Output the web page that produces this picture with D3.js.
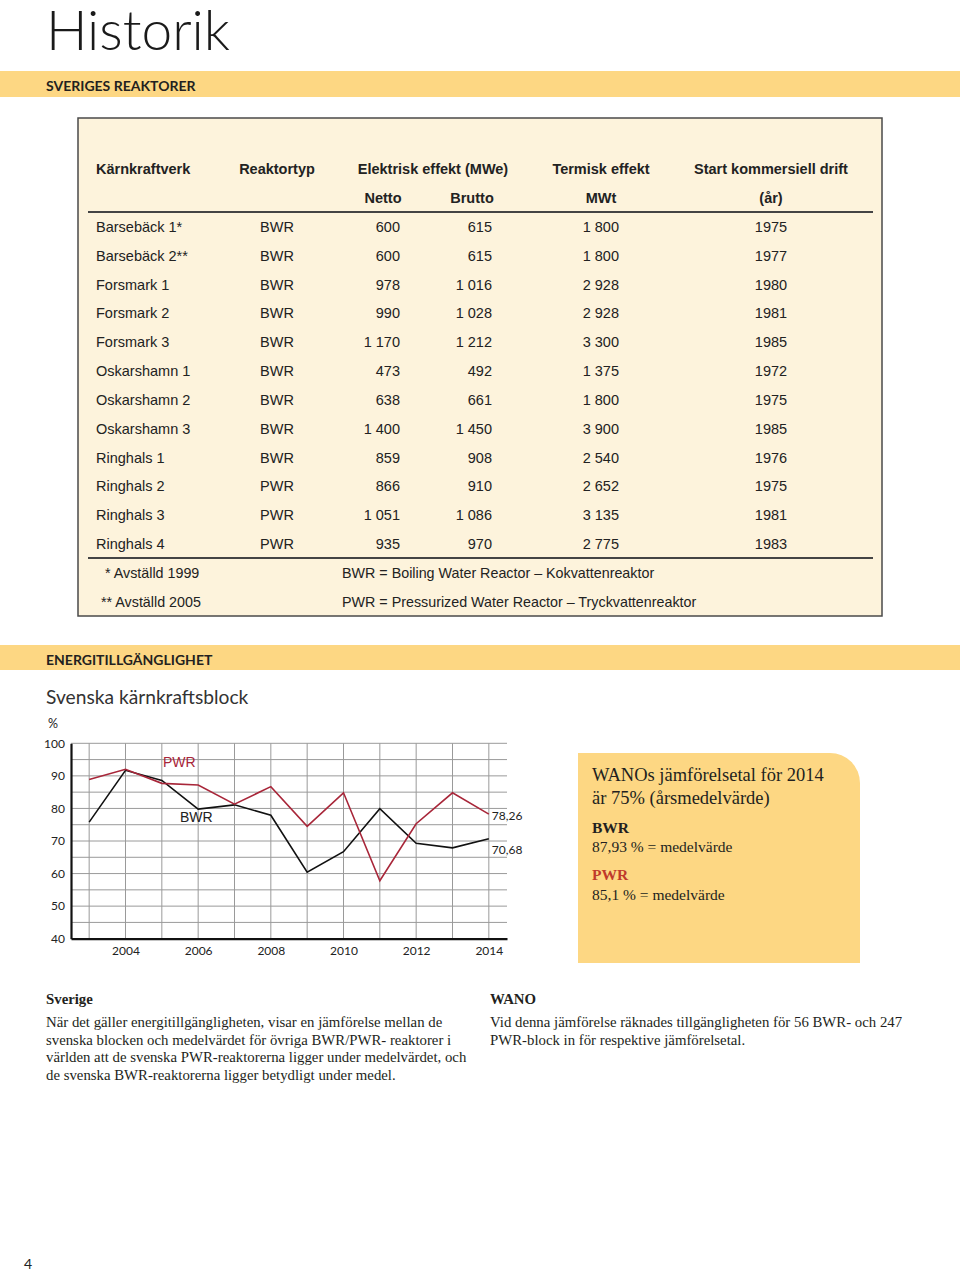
<!DOCTYPE html>
<html><head><meta charset="utf-8">
<script src="https://cdn.jsdelivr.net/npm/d3@7"></script>
<style>
html,body{margin:0;padding:0;background:#fff;}
svg{display:block;}
</style></head>
<body>
<script>
// ---------- Data ----------
const tableHeaders = ["Kärnkraftverk","Reaktortyp","Elektrisk effekt (MWe)","Termisk effekt","Start kommersiell drift"];
const subHeaders = ["Netto","Brutto","MWt","(år)"];
const plants = ["Barsebäck 1*","Barsebäck 2**","Forsmark 1","Forsmark 2","Forsmark 3","Oskarshamn 1","Oskarshamn 2","Oskarshamn 3","Ringhals 1","Ringhals 2","Ringhals 3","Ringhals 4"];
const reactorTypes = ["BWR","BWR","BWR","BWR","BWR","BWR","BWR","BWR","BWR","PWR","PWR","PWR"];
const netto = ["600","600","978","990","1 170","473","638","1 400","859","866","1 051","935"];
const brutto = ["615","615","1 016","1 028","1 212","492","661","1 450","908","910","1 086","970"];
const termisk = ["1 800","1 800","2 928","2 928","3 300","1 375","1 800","3 900","2 540","2 652","3 135","2 775"];
const startYear = ["1975","1977","1980","1981","1985","1972","1975","1985","1976","1975","1981","1983"];
const footnotesLeft = ["* Avställd 1999","** Avställd 2005"];
const footnotesRight = ["BWR = Boiling Water Reactor – Kokvattenreaktor","PWR = Pressurized Water Reactor – Tryckvattenreaktor"];

const years = [2003,2004,2005,2006,2007,2008,2009,2010,2011,2012,2013,2014];
const pwr = [88.9,92.0,87.7,87.2,81.3,86.7,74.5,84.8,57.8,75.3,84.8,78.26];
const bwr = [75.8,91.7,88.6,79.8,81.1,77.9,60.4,66.7,79.9,69.3,67.9,70.68];
const yTicks = [40,50,60,70,80,90,100];
const xTicks = [2004,2006,2008,2010,2012,2014];
const endLabels = ["78,26","70,68"];

const wanoLines = ["WANOs jämförelsetal för 2014","är 75% (årsmedelvärde)"];
const sverigeText = ["När det gäller energitillgängligheten, visar en jämförelse mellan de","svenska blocken och medelvärdet för övriga BWR/PWR- reaktorer i","världen att de svenska PWR-reaktorerna ligger under medelvärdet, och","de svenska BWR-reaktorerna ligger betydligt under medel."];
const wanoText = ["Vid denna jämförelse räknades tillgängligheten för 56 BWR- och 247","PWR-block in för respektive jämförelsetal."];

// ---------- Drawing ----------
const W = 960, H = 1273;
const svg = d3.select("body").append("svg").attr("width", W).attr("height", H);
const yellow = "#fdd783";
const red = "#a82639";
const sans = "'Liberation Sans', Arial, sans-serif";
const geo = "Lato, 'Open Sans', sans-serif";
const serif = "'Liberation Serif', 'DejaVu Serif', serif";

// Title
svg.append("text").attr("x", 46).attr("y", 50).attr("font-family", geo).attr("font-weight", 300)
  .attr("font-size", 55).attr("fill", "#1a1a1a").text("Historik");

// Band 1
svg.append("rect").attr("x", 0).attr("y", 71).attr("width", W).attr("height", 26).attr("fill", yellow);
svg.append("text").attr("x", 46).attr("y", 91).attr("font-family", geo).attr("font-weight", 700)
  .attr("font-size", 14).attr("fill", "#231f20").text("SVERIGES REAKTORER");

// Table box
svg.append("rect").attr("x", 78).attr("y", 118).attr("width", 804).attr("height", 498)
  .attr("fill", "#fdf3dc").attr("stroke", "#4a4a4a").attr("stroke-width", 1.5);

const tg = svg.append("g").attr("font-family", sans).attr("font-size", 14.5).attr("fill", "#222");
const hdr = [{x:96,a:"start"},{x:277,a:"middle"},{x:433,a:"middle"},{x:601,a:"middle"},{x:771,a:"middle"}];
tableHeaders.forEach((h,i)=>{
  tg.append("text").attr("x", hdr[i].x).attr("y", 174).attr("text-anchor", hdr[i].a)
    .attr("font-weight", 700).text(h);
});
const subX = [383,472,601,771];
subHeaders.forEach((h,i)=>{
  tg.append("text").attr("x", subX[i]).attr("y", 203).attr("text-anchor","middle").attr("font-weight",700).text(h);
});
tg.append("line").attr("x1",88).attr("x2",873).attr("y1",212).attr("y2",212).attr("stroke","#444").attr("stroke-width",2);

const rowY = d3.scaleLinear().domain([0, plants.length-1]).range([232, 549]);
plants.forEach((p,i)=>{
  const y = rowY(i);
  tg.append("text").attr("x",96).attr("y",y).text(p);
  tg.append("text").attr("x",277).attr("y",y).attr("text-anchor","middle").text(reactorTypes[i]);
  tg.append("text").attr("x",400).attr("y",y).attr("text-anchor","end").text(netto[i]);
  tg.append("text").attr("x",492).attr("y",y).attr("text-anchor","end").text(brutto[i]);
  tg.append("text").attr("x",619).attr("y",y).attr("text-anchor","end").text(termisk[i]);
  tg.append("text").attr("x",771).attr("y",y).attr("text-anchor","middle").text(startYear[i]);
});
tg.append("line").attr("x1",88).attr("x2",873).attr("y1",558).attr("y2",558).attr("stroke","#444").attr("stroke-width",2);
const fnX = [105,101];
footnotesLeft.forEach((t,i)=>{
  tg.append("text").attr("x",fnX[i]).attr("y",578+i*29).attr("font-size",14.3).text(t);
});
footnotesRight.forEach((t,i)=>{
  tg.append("text").attr("x",342).attr("y",578+i*29).attr("font-size",14.3).text(t);
});

// Band 2
svg.append("rect").attr("x", 0).attr("y", 645).attr("width", W).attr("height", 25).attr("fill", yellow);
svg.append("text").attr("x", 46).attr("y", 665).attr("font-family", geo).attr("font-weight", 700)
  .attr("font-size", 14).attr("fill", "#231f20").text("ENERGITILLGÄNGLIGHET");

svg.append("text").attr("x", 46).attr("y", 704).attr("font-family", geo).attr("font-weight", 400)
  .attr("font-size", 19.2).attr("fill", "#333").text("Svenska kärnkraftsblock");

// Chart
const x = d3.scaleLinear().domain([2002.5, 2014.5]).range([71, 507]);
const y = d3.scaleLinear().domain([40, 100]).range([938.7, 743.3]);
const cg = svg.append("g");
// grid
const gridY = d3.range(45, 101, 5);
cg.selectAll(".gy").data(gridY).enter().append("line")
  .attr("x1", x(2002.5)).attr("x2", x(2014.5)).attr("y1", d=>y(d)).attr("y2", d=>y(d))
  .attr("stroke", "#9a9a9a").attr("stroke-width", 1);
cg.selectAll(".gx").data(years).enter().append("line")
  .attr("x1", d=>x(d)).attr("x2", d=>x(d)).attr("y1", y(40)).attr("y2", y(100))
  .attr("stroke", "#9a9a9a").attr("stroke-width", 1);

// axes
const yAxis = d3.axisLeft(y).tickValues(yTicks).tickSize(0).tickPadding(6);
const yg = cg.append("g").attr("transform", `translate(${x(2002.5)},0)`).call(yAxis);
yg.select(".domain").attr("stroke", "#111").attr("stroke-width", 2.2);
yg.selectAll("text").attr("font-family", geo).attr("font-size", 12).attr("fill", "#222");

const xAxis = d3.axisBottom(x).tickValues(xTicks).tickSize(0).tickPadding(8).tickFormat(d3.format("d"));
const xg = cg.append("g").attr("transform", `translate(0,${y(40)})`).call(xAxis);
xg.select(".domain").attr("stroke", "#111").attr("stroke-width", 2.2);
xg.selectAll("text").attr("font-family", geo).attr("font-size", 12).attr("fill", "#222");

cg.append("text").attr("x", 48).attr("y", 728).attr("font-family", geo).attr("font-size", 12.5).attr("fill", "#222").text("%");

const line = d3.line().x((d,i)=>x(years[i])).y(d=>y(d));
cg.append("path").datum(bwr).attr("d", line).attr("fill","none").attr("stroke","#111").attr("stroke-width",1.6);
cg.append("path").datum(pwr).attr("d", line).attr("fill","none").attr("stroke",red).attr("stroke-width",1.6);

cg.append("text").attr("x", 163).attr("y", 767).attr("font-family", sans).attr("font-size", 14).attr("fill", red).text("PWR");
cg.append("text").attr("x", 180).attr("y", 822).attr("font-family", sans).attr("font-size", 14).attr("fill", "#222").text("BWR");
cg.append("text").attr("x", x(2014)+3).attr("y", y(pwr[pwr.length-1])+6).attr("font-family", geo).attr("font-size", 12).attr("fill", "#222").text(endLabels[0]);
cg.append("text").attr("x", x(2014)+3).attr("y", y(bwr[bwr.length-1])+15).attr("font-family", geo).attr("font-size", 12).attr("fill", "#222").text(endLabels[1]);

// WANO box
const bx=578, by=753, bw=282, bh=210, r=30;
svg.append("path").attr("d", `M${bx},${by} H${bx+bw-r} A${r},${r} 0 0 1 ${bx+bw},${by+r} V${by+bh} H${bx} Z`).attr("fill", yellow);
const wg = svg.append("g").attr("font-family", serif).attr("fill", "#231f20");
wanoLines.forEach((t,i)=>{
  wg.append("text").attr("x",592).attr("y",781+i*23).attr("font-size",18.5).text(t);
});
wg.append("text").attr("x",592).attr("y",833).attr("font-size",15.5).attr("font-weight",700).text("BWR");
wg.append("text").attr("x",592).attr("y",852).attr("font-size",15.5).text("87,93 % = medelvärde");
wg.append("text").attr("x",592).attr("y",880).attr("font-size",15.5).attr("font-weight",700).attr("fill","#c0392b").text("PWR");
wg.append("text").attr("x",592).attr("y",900).attr("font-size",15.5).text("85,1 % = medelvärde");

// Bottom text
const bt = svg.append("g").attr("font-family", serif).attr("fill", "#231f20").attr("font-size", 14.8);
bt.append("text").attr("x",46).attr("y",1004).attr("font-weight",700).text("Sverige");
sverigeText.forEach((t,i)=>bt.append("text").attr("x",46).attr("y",1027+i*17.7).text(t));
bt.append("text").attr("x",490).attr("y",1004).attr("font-weight",700).text("WANO");
wanoText.forEach((t,i)=>bt.append("text").attr("x",490).attr("y",1027+i*17.7).text(t));

svg.append("text").attr("x",24).attr("y",1269).attr("font-family",geo).attr("font-size",14).attr("fill","#222").text("4");
</script>
</body></html>
